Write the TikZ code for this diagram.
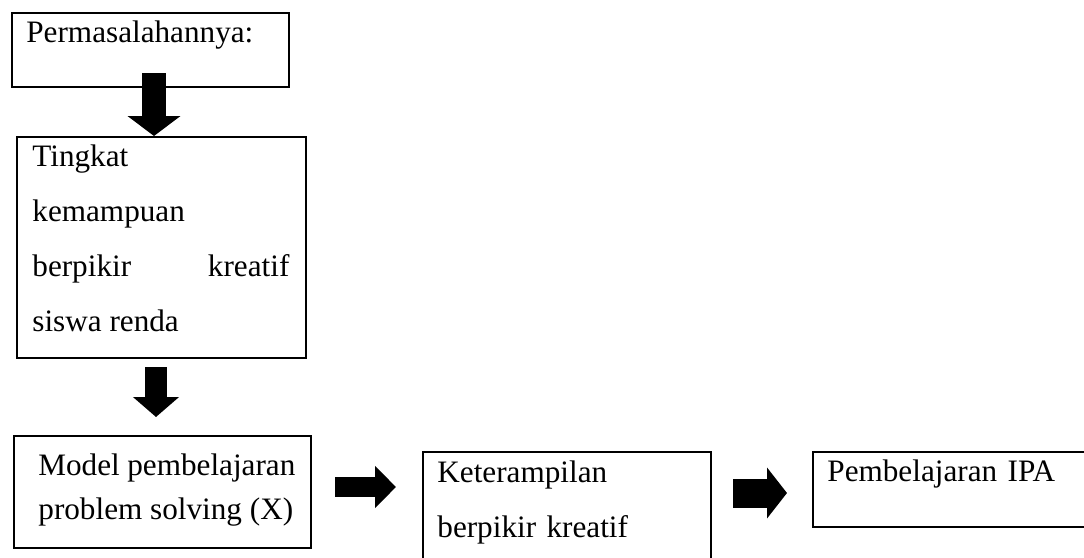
\documentclass[tikz,border=0pt]{standalone}
\usepackage{fontspec}
\setmainfont{Liberation Serif}
\usetikzlibrary{arrows.meta,calc}
\tikzset{
  box/.style={draw=black,line width=1.2pt,anchor=north west,inner sep=0pt},
  body/.style={font=\fontsize{15.6}{27.5}\selectfont,text=black,inner sep=0pt,anchor=base west},
  tight/.style={font=\fontsize{15.6}{22}\selectfont},
  blockarr/.style={draw=black,line cap=butt}
}
\begin{document}
\begin{tikzpicture}[x=0.5pt,y=-0.5pt]
\path[use as bounding box] (0,0) rectangle (1084,558);

% boxes
\node[box,minimum width=138.5pt,minimum height=37pt] (box1) at (11,12) {};
\node[box,minimum width=144.5pt,minimum height=110.5pt] (box2) at (16,136) {};
\node[box,minimum width=148.5pt,minimum height=56pt] (box3) at (13,435) {};
\node[box,minimum width=144pt,minimum height=58pt] (box4) at (422,451) {};
\node[box,minimum width=141.5pt,minimum height=37.5pt] (box5) at (812,451) {};

% texts
\node[body,text width=128pt,align=left] (t1) at (26,42) {Permasalahannya:};
\node[body,text width=128.5pt,align=justify] (t2) at (32,166) {Tingkat\\ kemampuan\\ berpikir\hfill kreatif\\ siswa renda};
\node[body,tight,text width=128.5pt,align=justify] (t3) at (38,475) {Model\hfill pembelajaran\\ problem solving (X)};
\node[body,text width=135pt,align=left] (t4) at (437,482) {Keterampilan\\ berpikir kreatif};
\node[body,text width=125pt,align=left] (t5) at (827,481) {Pembelajaran IPA};

% arrows
\coordinate (a1) at (154,73);
\coordinate (a2) at (156,367);
\coordinate (a3) at (335,487);
\coordinate (a4) at (733,493);
\draw[blockarr,line width=12pt,-{Triangle[length=10pt,width=26pt]}] (a1) -- (a1 |- box2.north);
\draw[blockarr,line width=11pt,-{Triangle[length=10pt,width=22.5pt]}] (a2) -- ($(a2 |- box3.north)+(0,-18)$);
\draw[blockarr,line width=10pt,-{Triangle[length=10.5pt,width=20.5pt]}] (a3) -- ($(a3 -| box4.west)+(-26,0)$);
\draw[blockarr,line width=14.5pt,-{Triangle[length=10pt,width=25pt]}] (a4) -- ($(a4 -| box5.west)+(-25,0)$);
\end{tikzpicture}
\end{document}
